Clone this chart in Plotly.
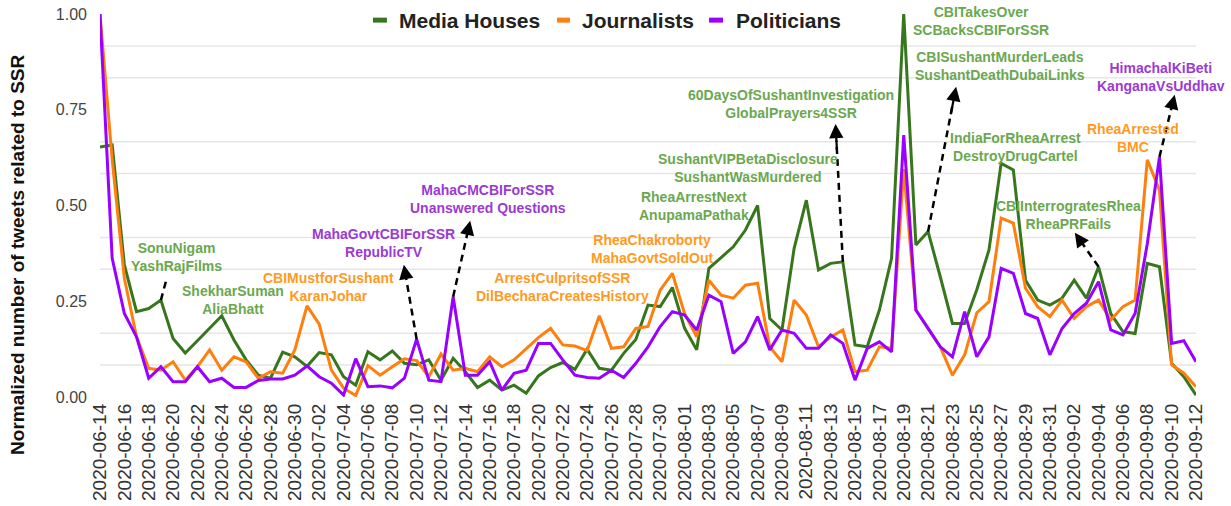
import plotly.graph_objects as go
import pandas as pd

# ---------------- data ----------------
dates = pd.date_range("2020-06-14", "2020-09-12", freq="D")

media_houses = [
    0.653, 0.658, 0.345, 0.223, 0.231, 0.253, 0.153, 0.115, 0.147, 0.179,
    0.212, 0.149, 0.097, 0.057, 0.049, 0.117, 0.105, 0.080, 0.116, 0.110,
    0.053, 0.031, 0.118, 0.097, 0.120, 0.088, 0.084, 0.097, 0.044, 0.101,
    0.066, 0.025, 0.044, 0.018, 0.031, 0.010, 0.055, 0.077, 0.090, 0.072,
    0.125, 0.075, 0.070, 0.114, 0.150, 0.240, 0.236, 0.286, 0.180, 0.123,
    0.336, 0.364, 0.392, 0.436, 0.500, 0.205, 0.175, 0.388, 0.514, 0.332,
    0.349, 0.353, 0.136, 0.131, 0.227, 0.362, 1.000, 0.397, 0.432, 0.314,
    0.192, 0.192, 0.280, 0.384, 0.610, 0.593, 0.305, 0.253, 0.240, 0.258,
    0.305, 0.258, 0.340, 0.218, 0.171, 0.166, 0.349, 0.340, 0.088, 0.053,
    0.005,
]

journalists = [
    1.000, 0.620, 0.310, 0.157, 0.075, 0.070, 0.092, 0.044, 0.079, 0.123,
    0.070, 0.105, 0.092, 0.049, 0.066, 0.062, 0.123, 0.238, 0.190, 0.070,
    0.023, 0.004, 0.082, 0.057, 0.079, 0.100, 0.095, 0.053, 0.112, 0.070,
    0.075, 0.066, 0.105, 0.079, 0.097, 0.127, 0.155, 0.179, 0.136, 0.133,
    0.121, 0.212, 0.127, 0.131, 0.179, 0.184, 0.279, 0.323, 0.218, 0.157,
    0.305, 0.266, 0.258, 0.292, 0.297, 0.131, 0.092, 0.253, 0.214, 0.131,
    0.157, 0.175, 0.066, 0.070, 0.131, 0.127, 0.595, 0.227, 0.179, 0.131,
    0.057, 0.110, 0.220, 0.249, 0.467, 0.454, 0.284, 0.236, 0.210, 0.253,
    0.205, 0.236, 0.253, 0.201, 0.236, 0.253, 0.619, 0.540, 0.084, 0.062,
    0.027,
]

politicians = [
    1.000, 0.362, 0.218, 0.157, 0.049, 0.079, 0.040, 0.040, 0.079, 0.040,
    0.049, 0.025, 0.025, 0.043, 0.047, 0.047, 0.057, 0.081, 0.053, 0.036,
    0.005, 0.100, 0.027, 0.029, 0.024, 0.049, 0.151, 0.044, 0.040, 0.262,
    0.057, 0.057, 0.092, 0.018, 0.062, 0.070, 0.140, 0.140, 0.097, 0.057,
    0.051, 0.049, 0.070, 0.051, 0.088, 0.131, 0.184, 0.223, 0.214, 0.175,
    0.266, 0.249, 0.114, 0.144, 0.210, 0.123, 0.175, 0.166, 0.127, 0.127,
    0.162, 0.140, 0.044, 0.127, 0.144, 0.118, 0.684, 0.227, 0.179, 0.131,
    0.105, 0.223, 0.105, 0.157, 0.336, 0.323, 0.218, 0.205, 0.110, 0.179,
    0.218, 0.245, 0.301, 0.175, 0.162, 0.218, 0.400, 0.627, 0.140, 0.147,
    0.092,
]

series_names = ["Media Houses", "Journalists", "Politicians"]
series_values = [media_houses, journalists, politicians]
line_colors = ["#38761d", "#ff7f0e", "#9900ff"]
text_colors = ["#6aa84f", "#ff9a1f", "#9b3ad3"]

tick_dates = dates[::2]
tick_labels = [d.strftime("%Y-%m-%d") for d in tick_dates]
y_ticks = [0.0, 0.25, 0.5, 0.75, 1.0]
y_tick_labels = ["0.00", "0.25", "0.50", "0.75", "1.00"]

# hashtag labels: (series index, text, day offset, value)
labels = [
    (0, "SonuNigam<br>YashRajFilms", 6.3, 0.366),
    (0, "ShekharSuman<br>AliaBhatt", 10.95, 0.252),
    (1, "CBIMustforSushant<br>KaranJohar", 18.75, 0.287),
    (2, "MahaGovtCBIForSSR<br>RepublicTV", 23.3, 0.403),
    (2, "MahaCMCBIForSSR<br>Unanswered Questions", 31.9, 0.516),
    (1, "ArrestCulpritsofSSR<br>DilBecharaCreatesHistory", 37.95, 0.287),
    (1, "RheaChakroborty<br>MahaGovtSoldOut", 45.3, 0.387),
    (0, "SushantVIPBetaDisclosure<br>SushantWasMurdered", 53.2, 0.598),
    (0, "RheaArrestNext<br>AnupamaPathak", 48.77, 0.500),
    (0, "60DaysOfSushantInvestigation<br>GlobalPrayers4SSR", 56.73, 0.765),
    (0, "CBITakesOver<br>SCBacksCBIForSSR", 72.33, 0.981),
    (0, "CBISushantMurderLeads<br>SushantDeathDubaiLinks", 73.9, 0.864),
    (0, "IndiaForRheaArrest<br>DestroyDrugCartel", 75.16, 0.654),
    (0, "CBIInterrogratesRhea<br>RheaPRFails", 79.54, 0.476),
    (1, "RheaArrested<br>BMC", 84.8, 0.676),
    (2, "HimachalKiBeti<br>KanganaVsUddhav", 87.1, 0.835),
]

# arrows: (series index, data point index, tip day offset, tip value)
arrows = [
    (0, 5, 5.55, 0.318),
    (2, 26, 24.95, 0.345),
    (2, 29, 30.4, 0.460),
    (0, 61, 60.4, 0.713),
    (0, 68, 70.3, 0.810),
    (0, 82, 80.05, 0.429),
    (2, 87, 88.25, 0.789),
]

# legend layout (paper coords): symbol start, symbol end, text start
legend_pos = [(0.2491, 0.2618, 0.2710), (0.4170, 0.4288, 0.4380),
              (0.5557, 0.5684, 0.5785)]
legend_y = 0.984


def day(d):
    return dates[0] + pd.Timedelta(days=d)


FONT = "Arial, Liberation Sans, sans-serif"

# ---------------- figure ----------------
fig = go.Figure()

for name, vals, col in zip(series_names, series_values, line_colors):
    fig.add_trace(go.Scatter(x=dates, y=vals, mode="lines", name=name,
                             line=dict(color=col, width=3), showlegend=False))

shapes = []
for k in range(1, 12):
    if k % 3:
        shapes.append(dict(type="line", xref="paper", x0=0, x1=1, yref="y",
                           y0=k / 12, y1=k / 12, layer="below",
                           line=dict(color="#e6e6e6", width=1.5)))

annotations = []
for si, txt, dx, vy in labels:
    annotations.append(dict(x=day(dx), y=vy, xref="x", yref="y", text="<b>%s</b>" % txt,
                            showarrow=False, xanchor="center", yanchor="middle",
                            font=dict(size=14, color=text_colors[si], family=FONT)))

for si, idx, tdx, tvy in arrows:
    sx = idx
    sy = series_values[si][idx]
    ex = tdx + (sx - tdx) * 0.12
    ey = tvy + (sy - tvy) * 0.12
    shapes.append(dict(type="line", xref="x", yref="y", x0=day(sx), y0=sy,
                       x1=day(ex), y1=ey,
                       line=dict(color="black", width=2.5, dash="7px,5px")))
    hx = tdx + (sx - tdx) * 0.2
    hy = tvy + (sy - tvy) * 0.2
    annotations.append(dict(x=day(tdx), y=tvy, ax=day(hx), ay=hy, xref="x", yref="y",
                            axref="x", ayref="y", text="", showarrow=True,
                            arrowhead=2, arrowsize=1.3, arrowwidth=2.2,
                            arrowcolor="black", standoff=0))

# legend drawn as line keys + bold labels
for name, col, (s0, s1, t0) in zip(series_names, line_colors, legend_pos):
    shapes.append(dict(type="line", xref="paper", yref="paper", x0=s0, x1=s1,
                       y0=legend_y, y1=legend_y, line=dict(color=col, width=5)))
    annotations.append(dict(x=t0, y=legend_y, xref="paper", yref="paper",
                            text="<b>%s</b>" % name, showarrow=False,
                            xanchor="left", yanchor="middle",
                            font=dict(size=21, color="#222222", family=FONT)))

annotations.append(dict(x=-0.0748, y=0.371, xref="paper", yref="paper",
                        text="<b>Normalized number of tweets related to SSR</b>",
                        textangle=-90, showarrow=False, xanchor="center", yanchor="middle",
                        font=dict(size=19, color="#111111", family=FONT)))

fig.update_layout(
    width=1231, height=506,
    margin=dict(l=100, r=35, t=14, b=109),
    paper_bgcolor="white", plot_bgcolor="white",
    font=dict(family=FONT),
    showlegend=False,
    shapes=shapes,
    annotations=annotations,
    xaxis=dict(type="date", range=[dates[0], dates[-1]], tickmode="array",
               tickvals=tick_dates, ticktext=tick_labels, tickangle=-90,
               tickfont=dict(size=19, color="#333333"), showgrid=False,
               zeroline=False, showline=False, ticks="", ticklabelstandoff=2,
               automargin=False),
    yaxis=dict(range=[0, 1], tickmode="array", tickvals=y_ticks, ticktext=y_tick_labels,
               tickfont=dict(size=16, color="#444444"), showgrid=False,
               zeroline=False, showline=False, ticks="", ticklabelstandoff=12,
               automargin=False),
)

fig.write_html("out.html",
               config={"displayModeBar": False},
               post_script="document.body.style.margin='0';"
                           "document.body.style.overflow='hidden';")
